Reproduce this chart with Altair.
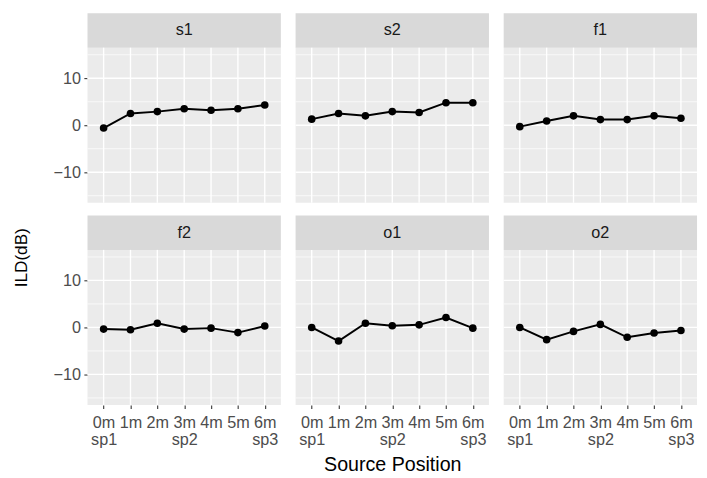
import altair as alt
import pandas as pd

# ---- data ----
positions = ["0m", "1m", "2m", "3m", "4m", "5m", "6m"]
speakers = ["sp1", "", "", "sp2", "", "", "sp3"]
panel_names = ["s1", "s2", "f1", "f2", "o1", "o2"]
ild_s1 = [-0.6, 2.5, 2.9, 3.5, 3.2, 3.5, 4.3]
ild_s2 = [1.3, 2.5, 2.0, 2.9, 2.7, 4.8, 4.8]
ild_f1 = [-0.3, 0.9, 2.0, 1.2, 1.2, 2.0, 1.5]
ild_f2 = [-0.35, -0.5, 0.9, -0.35, -0.15, -1.1, 0.3]
ild_o1 = [0.0, -2.9, 0.9, 0.35, 0.55, 2.1, -0.15]
ild_o2 = [0.0, -2.6, -0.85, 0.65, -2.1, -1.2, -0.65]
y_major = [-10, 0, 10]
y_minor = [-15, -5, 5, 15]
y_title = "ILD(dB)"
x_title = "Source Position"

series = [ild_s1, ild_s2, ild_f1, ild_f2, ild_o1, ild_o2]

# ---- layout / style ----
W, H, SH = 197, 158, 35
TOTAL = H + SH
YDOM = [-16.5, 16.5]
FONT = "Liberation Sans"
LBL = 16.5

pos_js = "[" + ",".join("'%s'" % p for p in positions) + "]"
spk_js = "[" + ",".join("'%s'" % s for s in speakers) + "]"
label_expr = "[datum.value, %s[indexof(%s, datum.value)]]" % (spk_js, pos_js)

one = pd.DataFrame({"k": [0]})


def make_panel(name, vals, col, row):
    xs = alt.Scale(type="point", domain=positions, padding=0.6)
    ys = alt.Scale(domain=YDOM, range=[TOTAL, SH], nice=False, zero=False)
    if row == 1:
        kw = dict(values=positions, labelExpr=label_expr, labelAngle=0,
                  labelFontSize=LBL, labelColor="#4D4D4D", labelFont=FONT,
                  tickColor="#333333", tickSize=3.7, tickWidth=1.1,
                  labelPadding=6, domain=False, grid=False, labelLineHeight=17.6)
        if col == 1:
            xaxis = alt.Axis(title=x_title, titleFontSize=20, titleColor="black",
                             titleFontWeight="normal", titleFont=FONT, titlePadding=7, **kw)
        else:
            xaxis = alt.Axis(title=None, **kw)
    else:
        xaxis = None
    if col == 0:
        yaxis = alt.Axis(values=y_major, labelFontSize=LBL, labelColor="#4D4D4D",
                         labelFont=FONT, tickColor="#333333", tickSize=3.7,
                         tickWidth=1.1, labelPadding=3.5, domain=False, grid=False,
                         title=None, minExtent=41, maxExtent=41)
    else:
        yaxis = None

    X = lambda: alt.X("pos:N", scale=xs, axis=xaxis)
    Y = lambda: alt.Y("ild:Q", scale=ys, axis=yaxis)

    bg = alt.Chart(one).mark_rect(color="#EBEBEB").encode(
        x=alt.value(0), x2=alt.value(W), y=alt.value(SH), y2=alt.value(TOTAL))
    strip = alt.Chart(one).mark_rect(color="#D9D9D9").encode(
        x=alt.value(0), x2=alt.value(W), y=alt.value(0), y2=alt.value(SH))
    strip_txt = alt.Chart(pd.DataFrame({"t": [name]})).mark_text(
        fontSize=LBL, color="#1A1A1A", font=FONT, baseline="middle", align="center"
    ).encode(text="t:N", x=alt.value(W / 2), y=alt.value(SH / 2))
    minor = alt.Chart(pd.DataFrame({"ild": y_minor})).mark_rule(
        color="white", strokeWidth=0.7).encode(y=Y(), x=alt.value(0), x2=alt.value(W))
    major = alt.Chart(pd.DataFrame({"ild": y_major})).mark_rule(
        color="white", strokeWidth=1.4).encode(y=Y(), x=alt.value(0), x2=alt.value(W))
    vgrid = alt.Chart(pd.DataFrame({"pos": positions})).mark_rule(
        color="white", strokeWidth=1.4).encode(x=X(), y=alt.value(SH), y2=alt.value(TOTAL))
    df = pd.DataFrame({"pos": positions, "ild": vals})
    line = alt.Chart(df).mark_line(color="black", strokeWidth=2).encode(x=X(), y=Y())
    pts = alt.Chart(df).mark_circle(color="black", size=60, opacity=1).encode(x=X(), y=Y())
    return alt.layer(bg, strip, strip_txt, minor, major, vgrid, line, pts).properties(
        width=W, height=TOTAL)


rows = []
for r in range(2):
    panels = [make_panel(panel_names[r * 3 + c], series[r * 3 + c], c, r) for c in range(3)]
    rows.append(alt.hconcat(*panels, spacing=11))

grid = alt.vconcat(*rows, spacing=10)

ytitle = alt.Chart(one).mark_text(
    text=y_title, angle=270, fontSize=17.5, color="black", font=FONT,
    baseline="middle", align="center"
).encode(x=alt.value(13), y=alt.value(249)).properties(width=37, height=2 * TOTAL + 10)

chart = alt.hconcat(ytitle, grid, spacing=0).properties(padding=0).configure(
    font=FONT, view=alt.ViewConfig(stroke="transparent"))

chart.save("out.html", embed_options={"renderer": "svg", "actions": False})
